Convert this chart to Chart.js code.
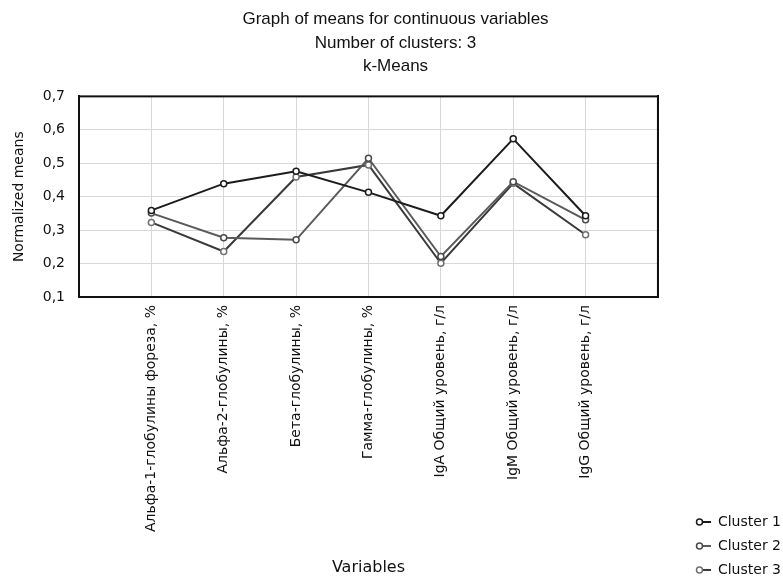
<!DOCTYPE html>
<html>
<head>
<meta charset="utf-8">
<script src="https://cdn.jsdelivr.net/npm/chart.js@4.4.1/dist/chart.umd.min.js"></script>
<style>
  html, body { margin: 0; padding: 0; background: #fff; }
</style>
</head>
<body>
<canvas id="chart-means" width="783" height="577"></canvas>
<script>
const titleLines = ['Graph of means for continuous variables', 'Number of clusters: 3', 'k-Means'];
const variables = [
  'Альфа-1-глобулины фореза, %',
  'Альфа-2-глобулины, %',
  'Бета-глобулины, %',
  'Гамма-глобулины, %',
  'IgA Общий уровень, г/л',
  'IgM Общий уровень, г/л',
  'IgG Общий уровень, г/л',
];
const clusterNames = ['Cluster 1', 'Cluster 2', 'Cluster 3'];
const cluster1 = [0.359, 0.439, 0.476, 0.413, 0.343, 0.573, 0.343];
const cluster2 = [0.351, 0.277, 0.271, 0.515, 0.221, 0.445, 0.331];
const cluster3 = [0.323, 0.236, 0.459, 0.495, 0.201, 0.440, 0.286];
const yMin = 0.1;
const yMax = 0.7;
const yStep = 0.1;

const TITLE_FONT = "'Liberation Sans', Arial, sans-serif";
const FONT = "'DejaVu Sans', Verdana, sans-serif";
const lineColors = ['#1c1c1c', '#5a5a5a', '#3a3a3a'];
const markerColors = ['#1c1c1c', '#4a4a4a', '#707070'];

// legend swatch: small circle followed by a line
function legendSwatch(lineColor, markerColor) {
  const c = document.createElement('canvas');
  c.width = 16;
  c.height = 10;
  const g = c.getContext('2d');
  g.strokeStyle = lineColor;
  g.lineWidth = 2;
  g.beginPath();
  g.moveTo(4, 5);
  g.lineTo(16, 5);
  g.stroke();
  g.fillStyle = '#fff';
  g.strokeStyle = markerColor;
  g.lineWidth = 1.5;
  g.beginPath();
  g.arc(4.5, 5, 3, 0, Math.PI * 2);
  g.fill();
  g.stroke();
  return c;
}

const series = [cluster1, cluster2, cluster3];

const framePlugin = {
  id: 'frame',
  beforeDatasetsDraw(chart) {
    const a = chart.chartArea;
    const ctx = chart.ctx;
    ctx.save();
    ctx.strokeStyle = '#111';
    ctx.lineWidth = 2;
    ctx.strokeRect(a.left, a.top, a.right - a.left, a.bottom - a.top);
    ctx.restore();
  },
};

new Chart(document.getElementById('chart-means'), {
  type: 'line',
  data: {
    datasets: series.map((vals, i) => ({
      label: clusterNames[i],
      data: vals.map((v, j) => ({ x: j + 1, y: v })),
      borderColor: lineColors[i],
      borderWidth: 2,
      pointRadius: 3,
      pointBorderWidth: 1.5,
      pointBorderColor: markerColors[i],
      pointBackgroundColor: '#fff',
      tension: 0,
    })),
  },
  options: {
    responsive: false,
    animation: false,
    layout: { padding: { bottom: -10, right: -8 } },
    plugins: {
      title: {
        display: true,
        text: titleLines,
        color: '#111',
        font: { family: TITLE_FONT, size: 17, weight: 'normal', lineHeight: 1.38 },
        padding: { top: 8, bottom: 18 },
      },
      legend: {
        position: 'right',
        align: 'end',
        labels: {
          color: '#111',
          font: { family: FONT, size: 14 },
          usePointStyle: true,
          pointStyleWidth: 16,
          padding: 10,
          generateLabels: (chart) =>
            Chart.defaults.plugins.legend.labels.generateLabels(chart).map((item, i) => ({
              ...item,
              pointStyle: legendSwatch(lineColors[i], markerColors[i]),
            })),
        },
      },
      tooltip: { enabled: false },
    },
    scales: {
      x: {
        type: 'linear',
        min: 0,
        max: variables.length + 1,
        afterBuildTicks: (scale) => {
          scale.ticks = Array.from({ length: variables.length + 2 }, (_, i) => ({ value: i }));
        },
        afterFit: (scale) => { scale.height = 290; },
        grid: { color: '#d8d8d8', drawTicks: false },
        border: { color: '#111', width: 2 },
        ticks: {
          autoSkip: false,
          minRotation: 90,
          maxRotation: 90,
          padding: 8,
          color: '#111',
          font: { family: FONT, size: 14 },
          callback: (v) => variables[v - 1] || '',
        },
        title: {
          display: true,
          text: 'Variables',
          color: '#111',
          font: { family: FONT, size: 16 },
          padding: { top: 0, bottom: 10 },
        },
      },
      y: {
        min: yMin,
        max: yMax,
        afterFit: (scale) => { scale.width = 79; },
        grid: { color: '#d8d8d8', drawTicks: false },
        border: { color: '#111', width: 2 },
        ticks: {
          stepSize: yStep,
          padding: 14,
          color: '#111',
          font: { family: FONT, size: 14 },
          callback: (v) => v.toFixed(1).replace('.', ','),
        },
        title: {
          display: true,
          text: 'Normalized means',
          color: '#111',
          font: { family: FONT, size: 14 },
          padding: { top: 11, bottom: 0 },
        },
      },
      yRight: {
        position: 'right',
        min: yMin,
        max: yMax,
        afterFit: (scale) => { scale.width = 27; },
        grid: { drawOnChartArea: false, drawTicks: false },
        border: { color: '#111', width: 2 },
        ticks: { stepSize: yStep, callback: () => '' },
      },
    },
  },
  plugins: [framePlugin],
});
</script>
</body>
</html>
